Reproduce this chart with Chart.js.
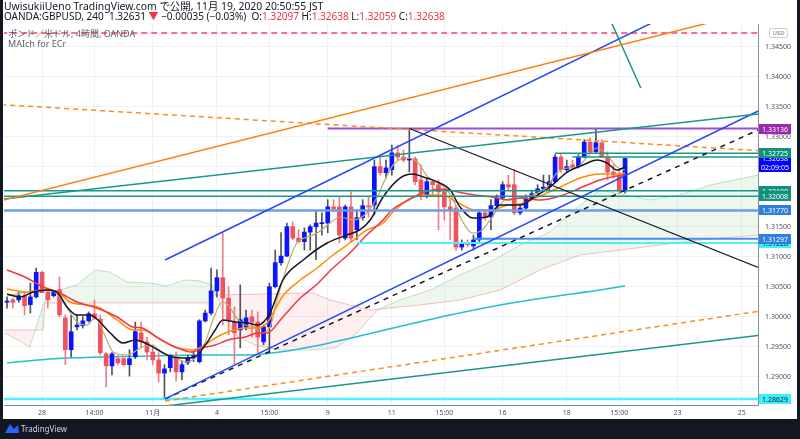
<!DOCTYPE html>
<html><head><meta charset="utf-8">
<script src="https://cdn.jsdelivr.net/npm/chart.js@4.4.1/dist/chart.umd.min.js"></script>
<style>
html,body{margin:0;padding:0;background:#131722;width:800px;height:439px;overflow:hidden;}
canvas{position:absolute;left:0;top:0;}
</style></head><body>
<canvas id="c" width="800" height="439"></canvas>
<script>
// ---------- DATA ----------
const firstBar = -6; // bar index of first candle (0 = Oct 28 first 4h bar)
const openP = [1.3024,1.3028,1.3028,1.3035,1.3020,1.3033,
 1.3074,1.3041,1.3035,1.3045,1.2998,1.2945,1.2983,1.2985,1.2993,1.3005,
 1.2996,1.2938,1.2918,1.2930,1.2930,1.2920,1.2933,1.2973,1.2958,1.2941,
 1.2928,1.2906,1.2915,1.2933,1.2908,1.2923,1.2931,1.2925,1.2993,1.3006,
 1.3043,1.3065,1.3031,1.2991,1.2978,1.2983,1.3000,1.2991,1.2958,1.2983,
 1.3050,1.3090,1.3101,1.3150,1.3131,1.3125,1.3141,1.3150,1.3155,1.3156,
 1.3183,1.3183,1.3131,1.3183,1.3145,1.3165,1.3185,1.3186,1.3250,1.3240,
 1.3245,1.3273,1.3266,1.3261,1.3263,1.3228,1.3203,1.3225,1.3220,1.3208,
 1.3183,1.3181,1.3116,1.3123,1.3118,1.3128,1.3173,1.3166,1.3185,1.3198,
 1.3220,1.3220,1.3173,1.3181,1.3198,1.3205,1.3213,1.3216,1.3225,1.3266,
 1.3245,1.3253,1.3250,1.3266,1.3291,1.3275,1.3290,1.3266,1.3241,1.3236,
 1.32097];
const highP = [1.3033,1.3031,1.3041,1.3041,1.3056,1.3081,
 1.3076,1.3048,1.3041,1.3066,1.3003,1.3003,1.3003,1.3000,1.3008,1.3028,
 1.3003,1.2940,1.2940,1.2936,1.2933,1.2945,1.2991,1.2991,1.2966,1.2953,
 1.2940,1.2920,1.2936,1.2941,1.2925,1.2936,1.2941,1.2995,1.3011,1.3081,
 1.3078,1.3140,1.3050,1.3016,1.3053,1.3011,1.3011,1.3008,1.2986,1.3056,
 1.3111,1.3140,1.3156,1.3158,1.3145,1.3148,1.3153,1.3175,1.3173,1.3195,
 1.3195,1.3200,1.3186,1.3208,1.3178,1.3195,1.3200,1.3261,1.3266,1.3261,
 1.3286,1.3286,1.3278,1.33136,1.3266,1.3253,1.3231,1.3228,1.3228,1.3211,
 1.3195,1.3186,1.3128,1.3128,1.3136,1.3178,1.3178,1.3195,1.3203,1.3225,
 1.3236,1.3245,1.3186,1.3203,1.3211,1.3220,1.3236,1.3236,1.3270,1.3270,
 1.3261,1.3261,1.3270,1.3295,1.3298,1.3313,1.3295,1.3275,1.3253,1.3245,
 1.32638];
const lowP = [1.3014,1.3014,1.3024,1.3003,1.3006,1.3031,
 1.3040,1.3014,1.3033,1.3000,1.2920,1.2933,1.2978,1.2981,1.2991,1.2995,
 1.2936,1.2883,1.2903,1.2920,1.2918,1.2901,1.2930,1.2948,1.2928,1.2920,
 1.2891,1.28629,1.2908,1.2893,1.2895,1.2920,1.2925,1.2923,1.2991,1.3003,
 1.3033,1.2986,1.2970,1.2920,1.2948,1.2978,1.2966,1.2940,1.2953,1.2940,
 1.3048,1.3086,1.3100,1.3128,1.3123,1.3111,1.3111,1.3095,1.3136,1.3140,
 1.3175,1.3123,1.3128,1.3125,1.3128,1.3161,1.3166,1.3170,1.3236,1.3231,
 1.3236,1.3261,1.3258,1.3241,1.3220,1.3195,1.3198,1.3203,1.3145,1.3161,
 1.3128,1.3111,1.3111,1.3116,1.3111,1.3125,1.3161,1.3145,1.3181,1.3195,
 1.3211,1.3170,1.3170,1.3178,1.3195,1.3200,1.3208,1.3211,1.3223,1.3241,
 1.3241,1.3245,1.3248,1.3265,1.3273,1.3273,1.3265,1.3228,1.3231,1.3205,
 1.32059];
const closeP = [1.3026,1.3024,1.3035,1.3018,1.3033,1.3074,
 1.3040,1.3028,1.3041,1.3003,1.2945,1.2975,1.2986,1.2993,1.3005,1.2998,
 1.2940,1.2918,1.2938,1.2923,1.2920,1.2930,1.2975,1.2958,1.2941,1.2928,
 1.2906,1.2913,1.2936,1.2908,1.2920,1.2931,1.2935,1.2993,1.3006,1.3043,
 1.3065,1.3031,1.2995,1.2973,1.2995,1.2998,1.2991,1.2966,1.2983,1.3050,
 1.3090,1.3101,1.3150,1.3131,1.3125,1.3141,1.3150,1.3156,1.3156,1.3183,
 1.3180,1.3136,1.3183,1.3131,1.3165,1.3185,1.3183,1.3250,1.3240,1.3248,
 1.3273,1.3266,1.3261,1.3263,1.3225,1.3203,1.3225,1.3220,1.3208,1.3183,
 1.3178,1.3116,1.3123,1.3120,1.3128,1.3173,1.3166,1.3185,1.3198,1.3220,
 1.3216,1.3173,1.3181,1.3198,1.3205,1.3213,1.3216,1.3225,1.3266,1.3245,
 1.3250,1.3248,1.3266,1.3291,1.3275,1.3290,1.3266,1.3241,1.3236,1.3211,
 1.32638];

// time axis tick labels (bar index -> label)
const xTickPos  = [0, 9, 19, 30, 39, 49, 60, 69, 79, 90, 99, 109, 120];
const xTickText = ['28','14:00','11月','4','15:00','9','11','15:00','16','18','15:00','23','25'];
const yTickVals = [1.290,1.295,1.300,1.305,1.310,1.315,1.320,1.325,1.330,1.335,1.340,1.345];

// moving averages: [barIndex, price]
const maBlack = [[-6.0,1.30378],[-3.8,1.30328],[-1.5,1.30411],[0.9,1.30445],[2.7,1.30395],[4.3,1.30161],[6.0,1.30028],[8.2,1.30028],[9.6,1.29945],[11.7,1.29728],[13.9,1.29561],[16.0,1.29611],[17.7,1.29561],[19.9,1.29445],[22.3,1.29328],[25.0,1.29311],[26.2,1.29328],[28.0,1.29528],[29.7,1.29778],[31.0,1.29945],[33.1,1.29911],[35.3,1.29895],[37.0,1.29861],[39.1,1.30061],[41.3,1.30611],[44.8,1.30945],[48.9,1.31228],[52.3,1.31361],[54.5,1.31445],[56.3,1.31611],[58.5,1.31995],[61.4,1.32311],[63.6,1.32378],[65.4,1.32328],[67.8,1.32245],[70.0,1.32111],[71.7,1.31828],[73.9,1.31645],[76.3,1.31661],[78.6,1.31861],[82.0,1.31861],[84.2,1.31978],[87.1,1.32161],[90.1,1.32411],[92.8,1.32528],[95.2,1.32611],[96.9,1.32561],[98.6,1.32445],[100.0,1.32495]];
const maRed = [[-6.0,1.30778],[-2.6,1.30645],[0.2,1.30495],[3.1,1.30395],[6.0,1.30245],[9.4,1.30145],[12.9,1.29995],[15.6,1.29828],[17.2,1.29811],[19.9,1.29645],[22.8,1.29495],[25.7,1.29411],[27.4,1.29478],[29.7,1.29528],[31.9,1.29611],[34.8,1.29661],[37.0,1.29728],[38.6,1.29728],[41.3,1.29995],[44.3,1.30311],[47.2,1.30545],[49.9,1.30811],[52.8,1.31061],[55.7,1.31361],[58.5,1.31611],[60.0,1.31778],[62.8,1.31945],[65.7,1.32078],[68.6,1.32128],[71.4,1.32078],[74.3,1.32028],[77.2,1.31995],[79.9,1.31945],[82.0,1.31978],[85.4,1.31945],[88.9,1.32011],[92.3,1.32145],[95.7,1.32278],[98.6,1.32345],[100.0,1.32361]];
const maOrange = [[-6.0,1.30461],[-2.6,1.30411],[0.2,1.30445],[2.7,1.30411],[4.8,1.30245],[7.7,1.30195],[9.9,1.30145],[12.9,1.29945],[15.6,1.29778],[17.2,1.29778],[19.9,1.29645],[22.8,1.29495],[25.7,1.29445],[27.4,1.29495],[29.7,1.29645],[31.9,1.29745],[34.8,1.29811],[37.0,1.29811],[38.6,1.29895],[41.3,1.30345],[44.3,1.30611],[47.2,1.30811],[49.9,1.31028],[52.8,1.31228],[55.7,1.31445],[58.5,1.31561],[60.0,1.31728],[62.8,1.31945],[65.7,1.32028],[68.6,1.32028],[71.4,1.31895],[74.3,1.31778],[77.2,1.31778],[79.9,1.31861],[82.0,1.31878],[85.4,1.32011],[88.9,1.32161],[92.3,1.32311],[95.7,1.32378],[98.6,1.32378],[100.0,1.32395]];
const maKhaki = [[-6.0,1.30345],[0.2,1.30445],[1.4,1.30445],[3.1,1.30311],[4.3,1.30145],[6.0,1.29911],[7.7,1.29861],[9.1,1.29978],[10.5,1.29745],[12.2,1.29411],[14.6,1.29361],[17.2,1.29495],[18.9,1.29528],[20.6,1.29395],[22.8,1.29311],[25.0,1.29245],[26.2,1.29311],[28.0,1.29578],[29.2,1.29911],[30.9,1.30245],[31.9,1.30195],[33.4,1.29978],[34.8,1.29861],[36.5,1.29828],[37.4,1.29728],[39.1,1.29828],[40.3,1.30278],[42.0,1.30828],[43.7,1.31228],[45.5,1.31328],[47.2,1.31395],[49.4,1.31561],[51.1,1.31661],[53.3,1.31611],[55.7,1.31728],[57.5,1.31995],[58.8,1.32278],[60.5,1.32561],[62.8,1.32645],[64.5,1.32561],[66.2,1.32328],[68.6,1.32195],[70.3,1.31995],[72.0,1.31611],[73.8,1.31395],[75.5,1.31445],[77.2,1.31661],[79.4,1.31945],[82.0,1.31978],[84.2,1.32028],[86.6,1.32161],[88.3,1.32395],[90.1,1.32478],[91.8,1.32495],[93.5,1.32661],[95.2,1.32811],[96.9,1.32695],[98.6,1.32495],[100.0,1.32445]];
const maCyan = [[-6.0,1.29228],[1.4,1.29295],[9.9,1.29328],[18.5,1.29345],[27.1,1.29361],[35.7,1.29361],[40.8,1.29411],[47.7,1.29528],[58.8,1.29778],[70.0,1.30028],[78.6,1.30195],[87.1,1.30328],[95.7,1.30445],[100.0,1.30511]];
// ichimoku cloud spans
const kumoA = [[-6.5,1.29728],[-4.1,1.29611],[-2.1,1.29495],[0.2,1.30195],[1.0,1.30395],[3.1,1.30445],[6.0,1.30528],[9.1,1.30778],[11.7,1.30745],[14.6,1.30578],[18.5,1.30561],[21.4,1.30511],[24.5,1.30611],[27.1,1.30595],[29.2,1.30528],[30.9,1.30111],[33.1,1.29695],[36.5,1.29528],[40.8,1.29445],[46.0,1.29445],[50.3,1.29478],[53.7,1.29695],[57.5,1.30111],[61.4,1.30278],[66.6,1.30445],[71.7,1.30695],[76.8,1.30911],[82.0,1.31195],[87.1,1.31411],[92.3,1.31861],[95.7,1.32111],[100.0,1.32028],[104.3,1.31945],[109.4,1.32028],[114.6,1.32195],[122.8,1.32361]];
const kumoB = [[-6.5,1.29778],[0.2,1.29778],[0.5,1.30228],[28.8,1.30228],[29.7,1.30361],[46.5,1.30395],[49.4,1.30278],[56.3,1.30111],[64.8,1.30195],[71.7,1.30278],[78.6,1.30445],[85.4,1.30778],[92.3,1.31028],[99.1,1.31111],[106.0,1.31195],[112.9,1.31278],[122.8,1.31361]];

// drawn trend lines: [[barIndex, price],[barIndex, price]]
const trendOrange     = [[-7,1.31933],[130,1.35280]];
const trendBlueUpper  = [[21.1,1.30945],[130,1.36098]];
const trendTealUpper  = [[-7,1.31958],[130,1.33456]];
const trendBlueLower  = [[21.1,1.28629],[130,1.33765]];
const trendBlackDash  = [[21.1,1.28629],[130,1.33428]];
const trendBlack      = [[63,1.33136],[130,1.30545]];
const trendOrangeDashHi = [[-7,1.33535],[130,1.32725]];
const trendOrangeDashLo = [[21.1,1.28595],[130,1.30195]];
const trendTealLower  = [[21.1,1.28511],[130,1.29771]];
const trendTealV      = [[96.7,1.35111],[102.7,1.33811]];
// horizontal levels: [price, fromBar]
const levelRedDash = [1.34728, -7];
const levelPurple  = [1.33136, 49];
const levelTealA   = [1.32725, 88];
const levelTealB   = [1.32660, 91];
const levelTealC   = [1.32100, -7];
const levelTealD   = [1.32008, -7];
const levelBlue1   = [1.31770, -7];
const levelBlue2   = [1.31297, 74];
const levelCyan1   = [1.31228, 54];
const levelCyan2   = [1.28629, -7];

// price-axis tags
const tags = [
  ['1.28629', 1.28629, '#3ff0ff', '#131722'],
  ['1.31228', 1.31228, '#3ff0ff', '#131722'],
  ['1.31297', 1.31297, '#2f7fe0', '#ffffff'],
  ['1.31770', 1.31770, '#2f7fe0', '#ffffff'],
  ['1.32100', 1.32100, '#11927d', '#ffffff'],
  ['1.32008', 1.32008, '#11927d', '#ffffff'],
  ['1.32638', 1.32638, '#0000ff', '#ffffff'],
  ['1.32725', 1.32725, '#11927d', '#ffffff'],
  ['1.33136', 1.33136, '#9c27b0', '#ffffff']
];
const countdownText = '02:09:05';
const headerLine1 = 'UwisukiiUeno TradingView.com で公開, 11月 19, 2020 20:50:55 JST';
const headerSegs = [['OANDA:GBPUSD, 240  1.32631 ','#131722'],['▼','#f23645'],[' −0.00035 (−0.03%)  O:','#131722'],['1.32097','#f23645'],[' H:','#131722'],['1.32638','#f23645'],[' L:','#131722'],['1.32059','#f23645'],[' C:','#131722'],['1.32638','#f23645']];
const legendLines = ['ポンド／米ドル, 4時間, OANDA', 'MAIch for ECr'];

// ---------- BUILD ----------
const FONT = "'Noto Sans', 'Noto Sans CJK JP', sans-serif";
const barIdx = openP.map((_, i) => firstBar + i);
const isBull = closeP.map((c, i) => c >= openP[i]);
const pts = arr => arr.map(([x, y]) => ({x, y}));
const hline = ([p, from]) => [[from, p], [130, p]];
function line(data, color, width, order, extra) {
  return Object.assign({type:'line', data: pts(data), borderColor: color, borderWidth: width,
    pointRadius: 0, fill: false, tension: 0, order: order}, extra || {});
}
const smooth = {cubicInterpolationMode: 'monotone'};

const datasets = [
  line(kumoB, 'rgba(242,54,69,0.30)', 1, 100),
  line(kumoA, 'rgba(67,160,71,0.30)', 1, 99, {fill: {target: 0, above: 'rgba(76,175,80,0.10)', below: 'rgba(242,54,69,0.08)'}}),
  line(maCyan, '#26bcd6', 1.5, 90, smooth),
  {type:'bar', data: barIdx.map((x, i) => ({x, y: [lowP[i], highP[i]]})), backgroundColor: isBull.map(b => b ? '#50535e' : '#f27c86'),
   barThickness: 1, grouped: false, order: 80},
  {type:'bar', data: barIdx.map((x, i) => ({x, y: [openP[i], closeP[i]]})), backgroundColor: isBull.map(b => b ? '#0a14ff' : '#ef5360'),
   barThickness: 4, grouped: false, minBarLength: 1, order: 79},
  line(maKhaki, '#b9ab6e', 1.2, 72, smooth),
  line(maOrange, '#ff8c00', 1.5, 71, smooth),
  line(maRed, '#f23645', 1.5, 70, smooth),
  line(maBlack, '#131722', 1.5, 69, smooth),
  line(trendOrange, '#ff7f0e', 1.5, 50),
  line(trendBlueUpper, '#2448f5', 1.5, 50),
  line(trendTealUpper, '#17998a', 1.5, 50),
  line(trendBlueLower, '#2448f5', 1.5, 50),
  line(trendBlackDash, '#131722', 1.5, 50, {borderDash: [5, 5]}),
  line(trendBlack, '#131722', 1.2, 50),
  line(trendOrangeDashHi, '#ff8c1a', 1.5, 50, {borderDash: [5, 4]}),
  line(trendOrangeDashLo, '#ff8c1a', 1.5, 50, {borderDash: [5, 4]}),
  line(trendTealLower, '#17998a', 1.5, 50),
  line(trendTealV, '#17998a', 1.5, 50),
  line(hline(levelRedDash), '#ff3d6b', 1.5, 50, {borderDash: [6, 4]}),
  line(hline(levelPurple), '#9c4dd6', 2, 50),
  line(hline(levelTealA), '#17998a', 1.5, 50),
  line(hline(levelTealB), '#17998a', 1.5, 50),
  line(hline(levelTealC), '#17998a', 1.5, 50),
  line(hline(levelTealD), '#17998a', 1.5, 50),
  line(hline(levelBlue1), '#6a9fe6', 2.5, 50),
  line(hline(levelBlue2), '#4a8fe6', 2, 50),
  line(hline(levelCyan1), '#50eeff', 2, 50),
  line(hline(levelCyan2), '#50eeff', 2.5, 50)
];

const frame = {
  id: 'frame',
  beforeDraw(chart) {
    const c = chart.ctx;
    c.save();
    c.fillStyle = '#131722'; c.fillRect(0, 0, 800, 439);
    c.fillStyle = '#ffffff'; c.fillRect(3, 0, 794, 419);
    c.restore();
  },
  afterDraw(chart) {
    const c = chart.ctx, ys = chart.scales.y, ca = chart.chartArea;
    c.save();
    c.textBaseline = 'middle';
    c.font = '10.4px ' + FONT; c.fillStyle = '#131722';
    c.fillText(headerLine1, 4, 7.5);
    c.font = '10px ' + FONT;
    let x = 4;
    for (const [t, col] of headerSegs) { c.fillStyle = col; c.fillText(t, x, 17); x += c.measureText(t).width; }
    c.font = '9px ' + FONT;
    c.fillStyle = '#5d606b';
    c.fillText(legendLines[0], 8, 34);
    c.fillText(legendLines[1], 8, 44);
    // USD box
    c.strokeStyle = '#c9ccd4'; c.lineWidth = 1;
    c.beginPath(); c.roundRect(769.5, 28.5, 18, 9, 2); c.stroke();
    c.fillStyle = '#6a6d78'; c.font = '6px ' + FONT; c.textAlign = 'center';
    c.fillText('USD', 778.5, 33.2);
    // tags
    c.font = '7px ' + FONT;
    for (const [t, p, bg, fg] of tags) {
      const y = Math.round(ys.getPixelForValue(p));
      c.fillStyle = bg; c.fillRect(ca.right + 1, y - 5, 32, 10);
      c.fillStyle = fg; c.fillText(t, ca.right + 17, y + 0.5);
      if (t === '1.32638') {
        c.fillStyle = bg; c.fillRect(ca.right + 1, y + 4, 32, 10);
        c.fillStyle = fg; c.fillText(countdownText, ca.right + 17, y + 9.5);
      }
    }
    // bottom brand
    c.fillStyle = '#2962ff';
    c.beginPath(); c.moveTo(5, 433); c.lineTo(10, 424); c.lineTo(14, 429); c.lineTo(18, 425); c.lineTo(19, 433); c.closePath(); c.fill();
    c.textAlign = 'left'; c.fillStyle = '#d1d4dc'; c.font = '8px ' + FONT;
    c.fillText('TradingView', 21, 429.5);
    c.restore();
  }
};

new Chart(document.getElementById('c'), {
  type: 'bar',
  data: {datasets},
  plugins: [frame],
  options: {
    responsive: false, animation: false, devicePixelRatio: 1,
    layout: {padding: {left: 4, right: 3, top: 24, bottom: 20}},
    plugins: {legend: {display: false}, tooltip: {enabled: false}},
    scales: {
      x: {type: 'linear', min: -6.52, max: 122.8, offset: false,
        grid: {color: '#eef1f6', drawTicks: false, offset: false},
        border: {color: '#8a8d96'},
        ticks: {autoSkip: false, maxRotation: 0, padding: 4, color: '#50535e', font: {size: 7, family: FONT},
          callback: v => { const k = xTickPos.indexOf(v); return k >= 0 ? xTickText[k] : ''; }},
        afterBuildTicks: s => { s.ticks = xTickPos.map(v => ({value: v})); },
        afterFit: s => { s.height = 14; }
      },
      y: {type: 'linear', position: 'right', min: 1.28528, max: 1.34878,
        grid: {color: '#eef1f6', drawTicks: false},
        border: {color: '#8a8d96'},
        ticks: {autoSkip: false, padding: 7, color: '#50535e', font: {size: 7, family: FONT},
          callback: v => Number(v).toFixed(5)},
        afterBuildTicks: s => { s.ticks = yTickVals.map(v => ({value: v})); },
        afterFit: s => { s.width = 39; }
      }
    }
  }
});
</script>
</body></html>
